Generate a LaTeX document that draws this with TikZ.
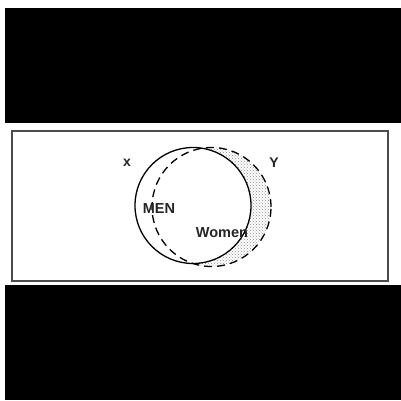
\documentclass[tikz,border=0pt]{standalone}
\usepackage{fontspec}
\setsansfont{Liberation Sans}
\usepackage{tikz}
\usetikzlibrary{patterns}
\tikzset{
  bandbox/.style={fill=black, draw=none},
  framebox/.style={draw=black!70, line width=1.6pt},
  setsolid/.style={draw=black, line width=1.3pt},
  setdashed/.style={draw=black, line width=1.3pt, dash pattern=on 8pt off 5pt},
  stipple/.style={pattern=crosshatch dots, pattern color=black!45},
  setlabel/.style={font=\sffamily\bfseries\fontsize{14.5}{14.5}\selectfont, text=black!85, inner sep=0pt},
  varlabel/.style={font=\sffamily\bfseries\fontsize{14}{14}\selectfont, text=black!85, inner sep=0pt}
}

\begin{document}
\begin{tikzpicture}[x=1pt,y=1pt]
  \useasboundingbox (0,0) rectangle (401,400);
  \fill[white] (0,0) rectangle (401,400);

  % black bands above and below
  \fill[bandbox] (5,277) rectangle (401,392);
  \fill[bandbox] (5,0) rectangle (401,115);

  % frame
  \draw[framebox] (12,119) rectangle (388,269);

  \coordinate (mc) at (193,194.5);
  \coordinate (wc) at (211.5,193);

  % shaded part: women outside men
  \begin{scope}
    \clip (wc) circle (59.5);
    \fill[stipple, even odd rule] (mc) circle (58) (120,120) rectangle (300,268);
  \end{scope}

  \draw[setsolid] (mc) circle (58);
  \draw[setdashed] (wc) circle (59.5);

  \node[varlabel] (xl) at (127,237) {x};
  \node[varlabel] (yl) at (274,237.5) {Y};
  \node[setlabel] (men) at (159,191.5) {MEN};
  \node[setlabel] (women) at (222,167) {Women};
\end{tikzpicture}
\end{document}
